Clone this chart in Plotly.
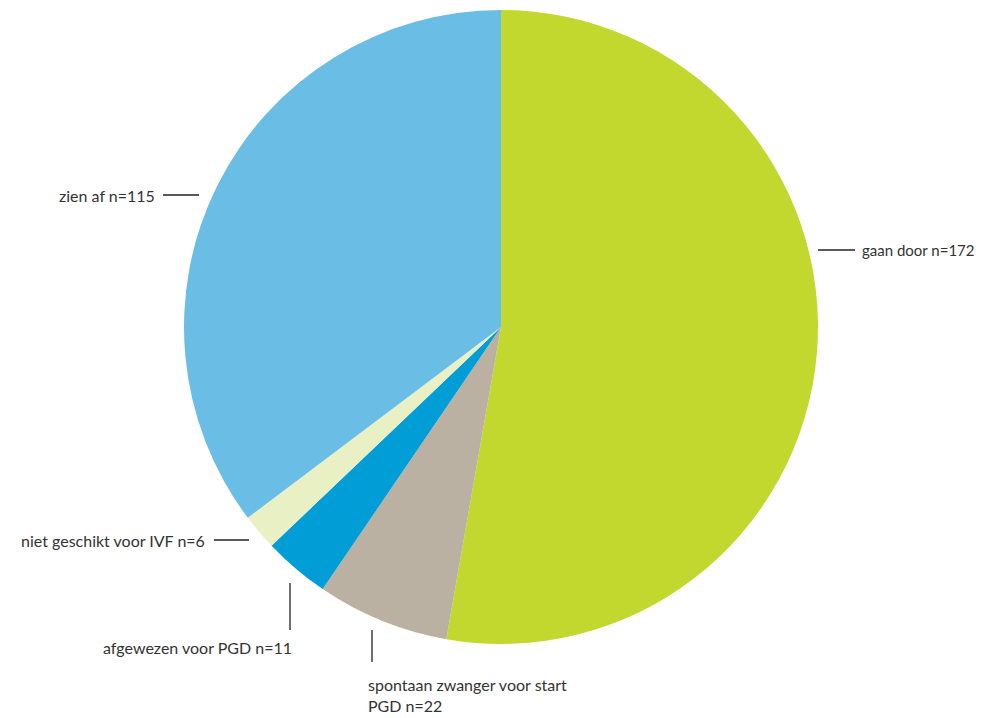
import plotly.graph_objects as go

labels = ["gaan door", "spontaan zwanger voor start PGD", "afgewezen voor PGD",
          "niet geschikt voor IVF", "zien af"]
values = [172, 22, 11, 6, 115]
colors = ["#C2D82E", "#BAB1A2", "#009DD6", "#E8F0C4", "#6ABDE4"]

OFF = 8  # page offset of the plot in the browser
W, H = 986 - OFF, 718 - OFF
cx, cy, r = 501 - OFF, 327 - OFF, 317

fig = go.Figure(go.Pie(
    labels=labels, values=values, sort=False, direction="clockwise", rotation=0,
    marker=dict(colors=colors, line=dict(width=0)),
    textinfo="none", hoverinfo="label+value", showlegend=False,
    domain=dict(x=[(cx - r) / W, (cx + r) / W], y=[1 - (cy + r) / H, 1 - (cy - r) / H]),
))

def px(x): return (x - OFF) / W
def py(y): return 1 - (y - OFF) / H

font = dict(family="Lato, Open Sans, sans-serif", size=16, color="#333333")

# leader lines (pixel positions in the reference)
lines = [(163, 195, 199, 195), (818, 250, 855, 250), (214, 540, 249, 540),
         (290, 583, 290, 630), (372, 630, 372, 662)]
shapes = [dict(type="line", xref="paper", yref="paper", x0=px(a), y0=py(b), x1=px(c), y1=py(d),
               line=dict(color="#222222", width=1.3)) for a, b, c, d in lines]

ann = [
    (157, 195, "right", f"zien af n={values[4]}", 16),
    (860, 250, "left", f"gaan door n={values[0]}", 15),
    (207, 540, "right", f"niet geschikt voor IVF n={values[3]}", 16),
    (294, 647, "right", f"afgewezen voor PGD n={values[2]}", 16),
]
annotations = [dict(x=px(x), y=py(y), xref="paper", yref="paper", xanchor=xa, yanchor="middle",
                    text=t, showarrow=False, font=dict(font, size=s)) for x, y, xa, t, s in ann]
annotations.append(dict(x=px(366), y=py(695), xref="paper", yref="paper", xanchor="left",
                        yanchor="middle", align="left", showarrow=False, font=font,
                        text=f"spontaan zwanger voor start<br>PGD n={values[1]}"))

fig.update_layout(width=W, height=H, margin=dict(l=0, r=0, t=0, b=0),
                  paper_bgcolor="white", plot_bgcolor="white",
                  shapes=shapes, annotations=annotations)
fig.write_html("out.html")
